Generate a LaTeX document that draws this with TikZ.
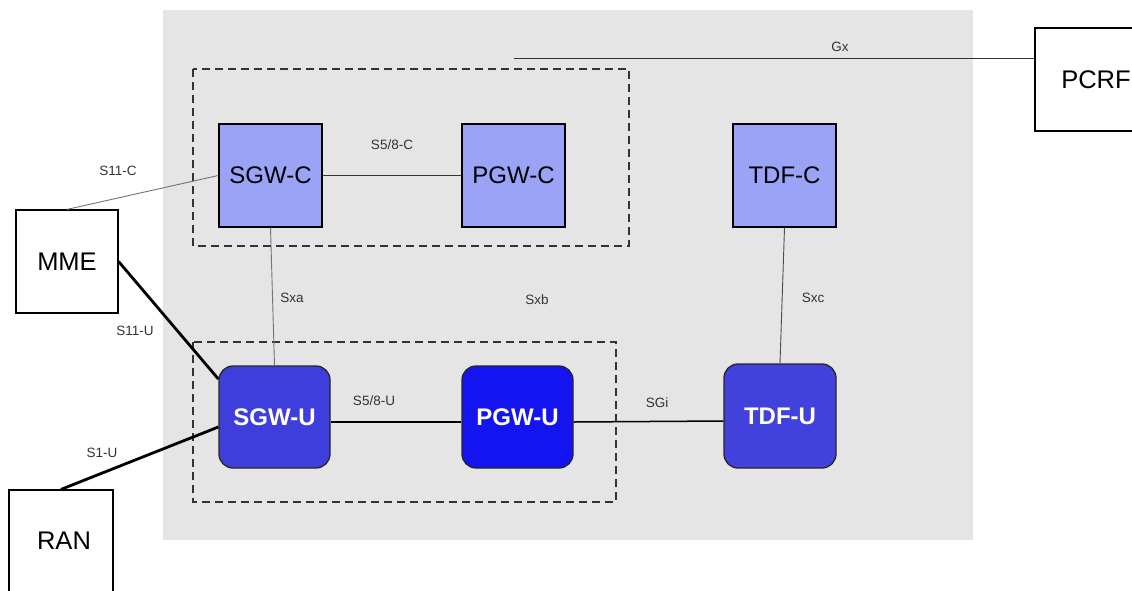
\documentclass[tikz,border=0pt]{standalone}
\usepackage{fontspec}
\setmainfont{Liberation Sans}
\definecolor{bgc}{HTML}{E5E5E5}
\definecolor{ctrlc}{HTML}{9AA3F6}
\definecolor{userc}{HTML}{3E3EDC}
\definecolor{pgwc}{HTML}{1414F0}
\definecolor{tdfc}{HTML}{4141DC}
\begin{document}
\begin{tikzpicture}[x=1pt,y=-1pt,
  ctrl/.style={draw=black, line width=1.5pt, fill=ctrlc, minimum width=103pt, minimum height=103pt, inner sep=0pt, font=\fontsize{24}{28}\selectfont},
  user/.style={draw=black!85, line width=1.3pt, rounded corners=14pt, fill=userc, minimum width=111pt, minimum height=102pt, inner sep=0pt, text=white, font=\bfseries\fontsize{24}{28}\selectfont},
  ext/.style={draw=black, line width=1.2pt, fill=white, inner sep=0pt, font=\fontsize{25.5}{30}\selectfont},
  grp/.style={draw=black!80, line width=1.4pt, dash pattern=on 8pt off 5pt},
  lbl/.style={font=\fontsize{13.5}{16}\selectfont, text=black!80, inner sep=0pt},
  thin/.style={draw=black!80, line width=1pt},
  thick/.style={draw=black, line width=2.8pt},
  faint/.style={draw=black!55, line width=0.9pt}
]
\useasboundingbox (0,0) rectangle (1132,590);
\fill[bgc] (163,10) rectangle (973,540);
\draw[grp] (193,69) rectangle (629,246);
\draw[grp] (193,342) rectangle (616,502);

\node[ctrl] (sgwc) at (270.5,175.5) {SGW-C};
\node[ctrl] (pgwc) at (513.5,175.5) {PGW-C};
\node[ctrl] (tdfc) at (784.5,175.5) {TDF-C};

\node[user] (sgwu) at (274.5,417) {SGW-U};
\node[user, fill=pgwc] (pgwu) at (517.5,417) {PGW-U};
\node[user, fill=tdfc, minimum width=112pt, minimum height=104pt] (tdfu) at (780,416) {TDF-U};

\node[ext, minimum width=102pt, minimum height=103pt] (mme) at (67,261.5) {MME};
\node[ext, minimum width=104pt, minimum height=112pt] (ran) at (61,546) {};
\node[font=\fontsize{25.5}{30}\selectfont, inner sep=0pt] (rant) at (64,541) {RAN};
\node[ext, minimum width=122pt, minimum height=103pt] (pcrf) at (1096,79.5) {PCRF};

\coordinate (gxs) at (514,58);
\draw[thin] (gxs) -- (gxs -| pcrf.west);
\node[lbl] (lgx) at (840,47) {Gx};

\draw[thin] (sgwc.east) -- (pgwc.west);
\node[lbl] (ls58c) at (392,145) {S5/8-C};

\draw[faint] (mme.north) -- (sgwc.west);
\node[lbl] (ls11c) at (118,171) {S11-C};

\draw[thick] (mme.east) -- ([yshift=38pt]sgwu.west);
\node[lbl] (ls11u) at (135,331) {S11-U};

\draw[thick] (ran.north) -- ([yshift=-10pt]sgwu.west);
\node[lbl] (ls1u) at (102,453) {S1-U};

\draw[faint] (sgwc.south) -- (sgwu.north);
\node[lbl] (lsxa) at (292,298) {Sxa};

\node[lbl] (lsxb) at (537,300) {Sxb};

\draw[faint, draw=black!70] (tdfc.south) -- (tdfu.north);
\node[lbl] (lsxc) at (813,298) {Sxc};

\draw[thin, draw=black, line width=1.5pt] ([yshift=-5pt]sgwu.east) -- ([yshift=-5pt]pgwu.west);
\node[lbl] (ls58u) at (374,401) {S5/8-U};

\draw[thin, draw=black, line width=1.5pt] ([yshift=-5pt]pgwu.east) -- ([yshift=-5pt]tdfu.west);
\node[lbl] (lsgi) at (657,403) {SGi};
\end{tikzpicture}
\end{document}
